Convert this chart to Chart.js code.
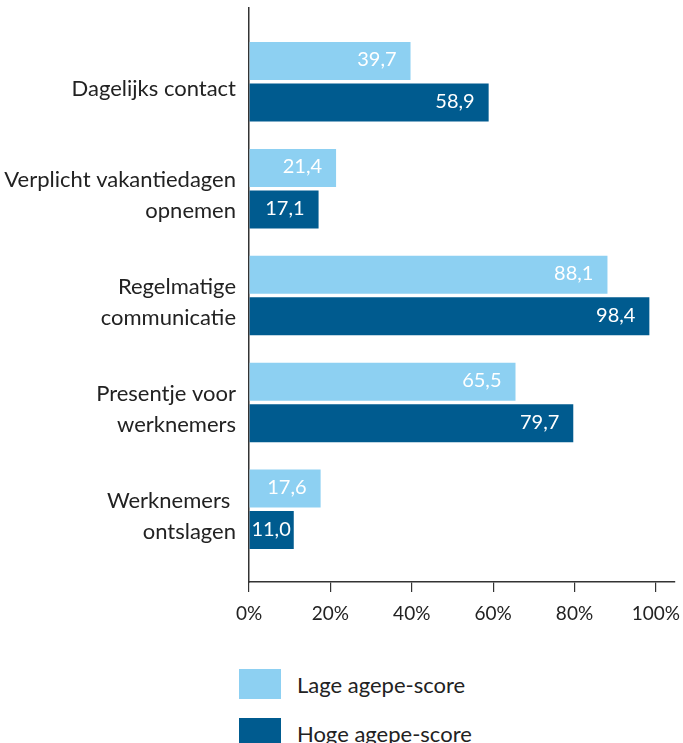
<!DOCTYPE html>
<html>
<head>
<meta charset="utf-8">
<script src="https://cdn.jsdelivr.net/npm/chart.js@4/dist/chart.umd.min.js"></script>
<style>
  body { margin: 0; background: #fff; width: 683px; height: 743px; overflow: hidden; position: relative; }
  #chart { position: absolute; left: 0; top: 0; }
  .legend-item { position: absolute; left: 239px; height: 30px; display: flex; align-items: center; font-family: Lato, sans-serif; font-size: 22px; color: #222; }
  .legend-box { width: 42px; height: 30px; margin-right: 16px; }
</style>
</head>
<body>
<canvas id="chart" width="683" height="650"></canvas>
<div id="legend"></div>
<script>
// categorieën en waarden (percentages)
const categories = [
    ['Dagelijks contact'],
    ['Verplicht vakantiedagen', 'opnemen'],
    ['Regelmatige', 'communicatie'],
    ['Presentje voor', 'werknemers'],
    ['Werknemers ', 'ontslagen']
];
const lageScore = [39.7, 21.4, 88.1, 65.5, 17.6];
const hogeScore = [58.9, 17.1, 98.4, 79.7, 11.0];
const seriesNames = ['Lage agepe-score', 'Hoge agepe-score'];
const seriesColors = ['#8dd0f2', '#005b8f'];
const xTicks = [0, 20, 40, 60, 80, 100];

const textColor = '#222';
const fontFamily = 'Lato, sans-serif';

// waarden in de balken tekenen
const barValueLabels = {
    id: 'barValueLabels',
    afterDatasetsDraw(chart) {
        const ctx = chart.ctx;
        ctx.save();
        ctx.fillStyle = '#fff';
        ctx.font = '20px ' + fontFamily;
        ctx.textAlign = 'right';
        ctx.textBaseline = 'middle';
        chart.data.datasets.forEach((ds, i) => {
            chart.getDatasetMeta(i).data.forEach((bar, j) => {
                const txt = ds.data[j].toFixed(1).replace('.', ',');
                const w = ctx.measureText(txt).width;
                const pad = Math.max(3, Math.min(14, bar.x - bar.base - w - 3));
                ctx.fillText(txt, bar.x - pad, bar.y - 1);
            });
        });
        ctx.restore();
    }
};

new Chart(document.getElementById('chart'), {
    type: 'bar',
    data: {
        labels: categories,
        datasets: [
            { label: seriesNames[0], data: lageScore, backgroundColor: seriesColors[0] },
            { label: seriesNames[1], data: hogeScore, backgroundColor: seriesColors[1] }
        ]
    },
    options: {
        indexAxis: 'y',
        responsive: false,
        animation: false,
        layout: { padding: { top: 8, right: 8, left: 0, bottom: 0 } },
        categoryPercentage: 0.776,
        barPercentage: 0.916,
        plugins: {
            legend: { display: false },
            tooltip: { enabled: false }
        },
        scales: {
            x: {
                min: 0,
                max: 104.7,
                afterBuildTicks: scale => {
                    scale.ticks = xTicks.map(v => ({ value: v }));
                },
                border: { display: true, color: '#333', width: 1.5 },
                grid: { drawOnChartArea: false, tickLength: 10, color: '#333', lineWidth: 1.2 },
                ticks: {
                    color: textColor,
                    padding: 10,
                    font: { family: fontFamily, size: 19 },
                    callback: v => v + '%'
                },
                afterFit: scale => {
                    scale.height = 68;
                    scale.paddingLeft = 0;
                    scale.paddingRight = 0;
                }
            },
            y: {
                afterBuildTicks: scale => {
                    // extra ruimte boven en onder de categorieën
                    scale._startValue = -0.69;
                    scale._valueRange = 5.37;
                },
                border: { display: true, color: '#333', width: 1.5 },
                grid: { display: false, drawTicks: false },
                ticks: {
                    color: textColor,
                    padding: 13,
                    labelOffset: 7,
                    font: { family: fontFamily, size: 22, lineHeight: 1.42 }
                },
                afterFit: scale => {
                    scale.width = 249;
                    scale.paddingTop = 0;
                    scale.paddingBottom = 0;
                }
            }
        }
    },
    plugins: [barValueLabels]
});

// legenda onder de grafiek
const legend = document.getElementById('legend');
seriesNames.forEach((name, i) => {
    const item = document.createElement('div');
    item.className = 'legend-item';
    item.style.top = (669 + i * 49) + 'px';
    item.innerHTML = '<span class="legend-box" style="background:' + seriesColors[i] + '"></span>' + name;
    legend.appendChild(item);
});
</script>
</body>
</html>
